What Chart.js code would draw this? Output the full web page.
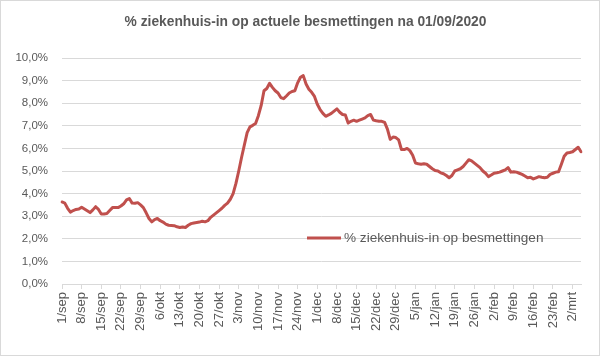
<!DOCTYPE html>
<html>
<head>
<meta charset="utf-8">
<script src="https://cdn.jsdelivr.net/npm/chart.js@4/dist/chart.umd.min.js"></script>
<style>
  html, body { margin: 0; padding: 0; background: #ffffff; }
  #wrap { width: 600px; height: 357px; position: relative; }
</style>
</head>
<body>
<div id="wrap"><canvas id="c" width="600" height="357"></canvas></div>
<script>
// Category structure: month names (Dutch) and number of days shown per month
const monthNames = ['sep', 'okt', 'nov', 'dec', 'jan', 'feb', 'mrt'];
// Daily values (%), one array per month
const sep = [3.63, 3.58, 3.35, 3.18, 3.25, 3.30, 3.32, 3.40, 3.32, 3.24,
             3.16, 3.28, 3.42, 3.30, 3.10, 3.10, 3.12, 3.25, 3.38, 3.38,
             3.38, 3.45, 3.55, 3.72, 3.78, 3.58, 3.57, 3.60, 3.50, 3.38];
const okt = [3.15, 2.90, 2.75, 2.85, 2.90, 2.80, 2.74, 2.65, 2.60, 2.59,
             2.58, 2.53, 2.50, 2.52, 2.50, 2.60, 2.67, 2.70, 2.72, 2.74,
             2.78, 2.75, 2.80, 2.95, 3.05, 3.15, 3.25, 3.35, 3.48, 3.58, 3.75];
const nov = [4.00, 4.45, 5.00, 5.60, 6.15, 6.70, 6.95, 7.02, 7.10, 7.45,
             7.90, 8.55, 8.65, 8.88, 8.70, 8.55, 8.45, 8.25, 8.20, 8.32,
             8.45, 8.52, 8.55, 8.90, 9.15, 9.22, 8.85, 8.62, 8.48, 8.30];
const dec = [7.95, 7.72, 7.55, 7.42, 7.48, 7.55, 7.65, 7.75, 7.60, 7.50,
             7.48, 7.12, 7.20, 7.25, 7.20, 7.25, 7.30, 7.35, 7.45, 7.50,
             7.25, 7.22, 7.20, 7.20, 7.15, 6.85, 6.40, 6.50, 6.48, 6.38, 5.95];
const jan = [5.95, 6.00, 5.90, 5.70, 5.35, 5.32, 5.30, 5.32, 5.30, 5.20,
             5.10, 5.02, 5.00, 4.92, 4.88, 4.80, 4.70, 4.80, 5.00, 5.05,
             5.10, 5.20, 5.35, 5.50, 5.45, 5.35, 5.25, 5.15, 5.00, 4.90, 4.75];
const feb = [4.82, 4.90, 4.92, 4.95, 5.00, 5.05, 5.15, 4.95, 4.97, 4.95,
             4.90, 4.85, 4.78, 4.70, 4.72, 4.65, 4.70, 4.75, 4.72, 4.70,
             4.72, 4.85, 4.90, 4.95, 4.97, 5.30, 5.65, 5.80];
const mrt = [5.82, 5.85, 5.95, 6.05, 5.85];
const monthSeries = [sep, okt, nov, dec, jan, feb, mrt];

// Y tick values
const yTicks = [0, 1, 2, 3, 4, 5, 6, 7, 8, 9, 10];

const titleText = '% ziekenhuis-in op actuele besmettingen na 01/09/2020';
const seriesName = '% ziekenhuis-in op besmettingen';

// Build category labels "d/month" and the flat value list from the arrays above
const labels = [];
const values = [];
monthSeries.forEach((arr, m) => {
  arr.forEach((v, i) => {
    labels.push((i + 1) + '/' + monthNames[m]);
    values.push(v);
  });
});

const textColor = '#595959';
const gridColor = '#d9d9d9';
const lineColor = '#c0504d';
const FONT = "'Liberation Sans', Arial, sans-serif";

const bgBorder = {
  id: 'bgBorder',
  beforeDraw(chart) {
    const ctx = chart.ctx;
    ctx.save();
    ctx.fillStyle = '#ffffff';
    ctx.fillRect(0, 0, chart.width, chart.height);
    ctx.strokeStyle = gridColor;
    ctx.lineWidth = 1;
    ctx.strokeRect(0.5, 0.5, chart.width - 1, chart.height - 2);
    ctx.restore();
  }
};

// Title drawn centred over the chart, as in the reference
const titleDraw = {
  id: 'titleDraw',
  afterDraw(chart) {
    const ctx = chart.ctx;
    ctx.save();
    ctx.fillStyle = textColor;
    ctx.font = 'bold 13.8px ' + FONT;
    ctx.textBaseline = 'middle';
    ctx.textAlign = 'center';
    ctx.fillText(titleText, 305.5, 22);
    ctx.restore();
  }
};

const innerLegend = {
  id: 'innerLegend',
  afterDraw(chart) {
    const ctx = chart.ctx;
    const a = chart.chartArea;
    const x0 = a.left + 245;
    const y0 = a.top + 180;
    ctx.save();
    ctx.strokeStyle = lineColor;
    ctx.lineWidth = 3;
    ctx.beginPath();
    ctx.moveTo(x0, y0);
    ctx.lineTo(x0 + 34, y0);
    ctx.stroke();
    ctx.fillStyle = textColor;
    ctx.font = '13.6px ' + FONT;
    ctx.textBaseline = 'middle';
    ctx.textAlign = 'left';
    ctx.fillText(seriesName, x0 + 37, y0);
    ctx.restore();
  }
};

new Chart(document.getElementById('c'), {
  type: 'line',
  data: {
    labels: labels,
    datasets: [{
      label: seriesName,
      data: values,
      borderColor: lineColor,
      backgroundColor: lineColor,
      borderWidth: 3,
      pointRadius: 0,
      tension: 0,
      borderJoinStyle: 'round',
      borderCapStyle: 'round'
    }]
  },
  options: {
    responsive: false,
    animation: false,
    devicePixelRatio: 1,
    layout: { padding: { left: 0, right: 19, top: 58, bottom: 0 } },
    plugins: {
      legend: { display: false },
      tooltip: { enabled: false },
      title: { display: false }
    },
    scales: {
      x: {
        type: 'category',
        offset: false,
        border: { display: true, color: gridColor, width: 1 },
        grid: {
          drawOnChartArea: false,
          drawTicks: true,
          tickLength: 5,
          color: (ctx) => (ctx.index % 7 === 0 ? gridColor : 'rgba(0,0,0,0)')
        },
        ticks: {
          autoSkip: false,
          maxRotation: 90,
          minRotation: 90,
          padding: 3,
          color: textColor,
          font: { family: FONT, size: 13 },
          callback: (val, i) => (i % 7 === 0 ? labels[i] : '')
        },
        afterFit: (s) => { s.height = 73; }
      },
      y: {
        min: yTicks[0],
        max: yTicks[yTicks.length - 1],
        border: { display: false },
        grid: { color: gridColor, drawTicks: false, lineWidth: 1 },
        ticks: {
          stepSize: 1,
          padding: 14,
          color: textColor,
          font: { family: FONT, size: 11.5 },
          callback: (v) => v.toFixed(1).replace('.', ',') + '%'
        },
        afterFit: (s) => { s.width = 62; }
      }
    }
  },
  plugins: [bgBorder, titleDraw, innerLegend]
});
</script>
</body>
</html>
